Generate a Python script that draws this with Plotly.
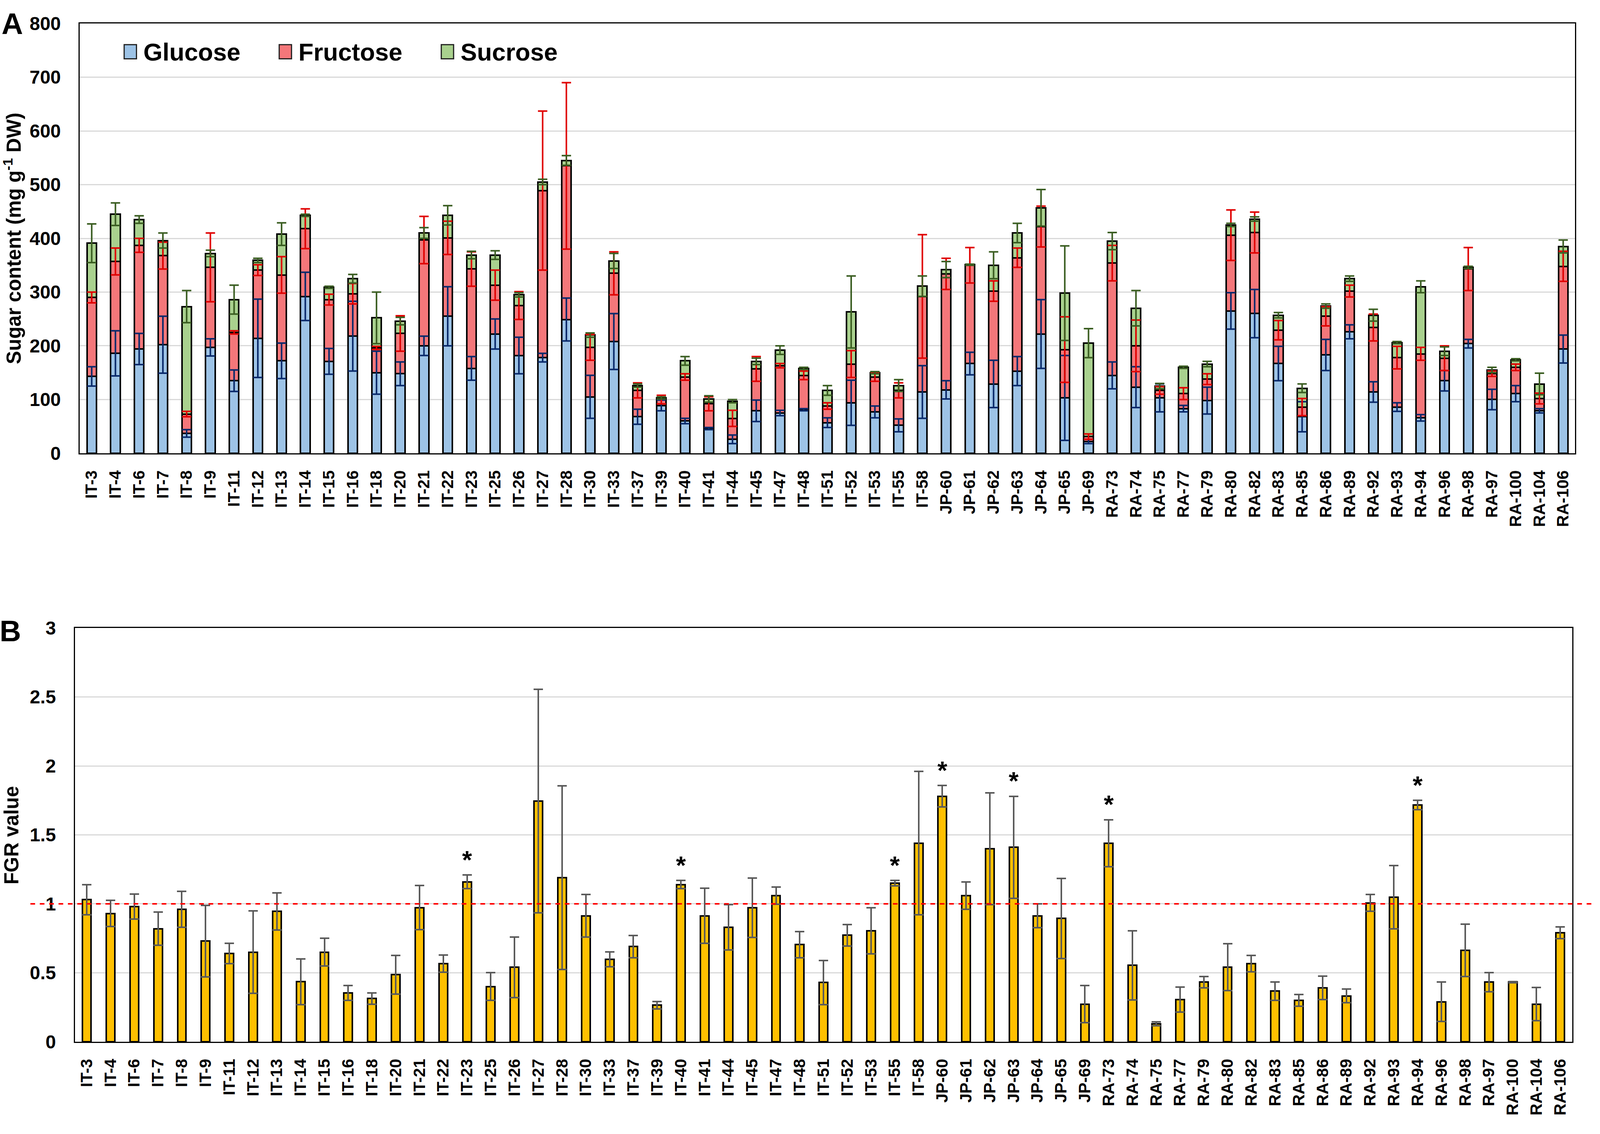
import numpy as np
import plotly.graph_objects as go

# Accessions (same order in both panels)
lines = ['IT-3', 'IT-4', 'IT-6', 'IT-7', 'IT-8', 'IT-9', 'IT-11', 'IT-12', 'IT-13', 'IT-14',
         'IT-15', 'IT-16', 'IT-18', 'IT-20', 'IT-21', 'IT-22', 'IT-23', 'IT-25', 'IT-26', 'IT-27',
         'IT-28', 'IT-30', 'IT-33', 'IT-37', 'IT-39', 'IT-40', 'IT-41', 'IT-44', 'IT-45', 'IT-47',
         'IT-48', 'IT-51', 'IT-52', 'IT-53', 'IT-55', 'IT-58', 'JP-60', 'JP-61', 'JP-62', 'JP-63',
         'JP-64', 'JP-65', 'JP-69', 'RA-73', 'RA-74', 'RA-75', 'RA-77', 'RA-79', 'RA-80', 'RA-82',
         'RA-83', 'RA-85', 'RA-86', 'RA-89', 'RA-92', 'RA-93', 'RA-94', 'RA-96', 'RA-98', 'RA-97',
         'RA-100', 'RA-104', 'RA-106']

# Panel A : sugar content (mg g-1 DW)
glucose = [143, 186, 194, 202, 37, 197, 135, 214, 172, 292,
           171, 218, 150, 148, 200, 255, 158, 222, 182, 178,
           249, 105, 208, 68, 89, 60, 46, 26, 79, 75,
           81, 57, 94, 77, 52, 114, 118, 167, 129, 153,
           222, 103, 22, 145, 123, 103, 83, 98, 265, 260,
           167, 68, 183, 226, 114, 86, 66, 135, 204, 100,
           111, 79, 194]
glucose_err = [18, 42, 29, 53, 7, 16, 20, 73, 33, 45,
               24, 65, 40, 22, 18, 55, 22, 28, 34, 8,
               40, 40, 52, 14, 10, 5, 2, 8, 20, 5,
               2, 9, 42, 11, 12, 49, 17, 21, 44, 27,
               64, 79, 4, 25, 38, 26, 6, 25, 34, 45,
               32, 28, 29, 13, 19, 8, 6, 19, 8, 19,
               15, 4, 26]
fructose = [147, 171, 193, 166, 36, 149, 90, 127, 160, 126,
            115, 79, 46, 75, 197, 146, 185, 91, 93, 311,
            286, 92, 127, 49, 11, 82, 46, 39, 78, 88,
            64, 31, 72, 65, 65, 178, 216, 183, 173, 211,
            200, 90, 9, 209, 77, 14, 28, 40, 141, 151,
            62, 18, 72, 76, 120, 92, 119, 42, 139, 48,
            49, 23, 154]
fructose_err = [10, 25, 13, 25, 5, 64, 3, 10, 34, 37,
                10, 19, 3, 33, 44, 31, 32, 28, 26, 148,
                155, 24, 40, 14, 8, 6, 13, 15, 23, 4,
                8, 6, 25, 8, 14, 115, 29, 33, 19, 18,
                38, 61, 5, 33, 48, 7, 11, 10, 47, 38,
                18, 16, 18, 11, 25, 21, 12, 23, 40, 5,
                6, 10, 28]
sucrose = [101, 88, 48, 28, 200, 26, 61, 18, 76, 25,
           23, 28, 56, 23, 13, 42, 26, 56, 20, 16,
           10, 23, 23, 9, 3, 30, 9, 32, 14, 29,
           13, 29, 97, 8, 9, 19, 8, 1, 48, 46,
           35, 105, 174, 41, 70, 8, 49, 28, 19, 25,
           28, 35, 19, 23, 23, 28, 125, 13, 3, 7,
           14, 27, 37]
sucrose_err = [36, 21, 7, 14, 30, 6, 27, 4, 21, 2,
               2, 8, 48, 7, 10, 18, 7, 8, 4, 5,
               9, 4, 14, 3, 2, 8, 6, 3, 6, 8,
               2, 9, 67, 2, 11, 19, 15, 1, 25, 18,
               34, 88, 27, 16, 33, 5, 2, 5, 3, 4,
               5, 8, 4, 5, 11, 2, 11, 8, 2, 5,
               2, 20, 12]

# Panel B : FGR value
fgr = [1.03, 0.93, 0.98, 0.82, 0.96, 0.73, 0.64, 0.65, 0.945, 0.435,
       0.65, 0.355, 0.313, 0.486, 0.972, 0.567, 1.16, 0.40, 0.54, 1.745,
       1.19, 0.913, 0.597, 0.69, 0.265, 1.14, 0.913, 0.83, 0.972, 1.06,
       0.705, 0.43, 0.772, 0.805, 1.15, 1.44, 1.78, 1.06, 1.40, 1.41,
       0.913, 0.894, 0.273, 1.44, 0.554, 0.13, 0.305, 0.432, 0.54, 0.567,
       0.367, 0.30, 0.39, 0.332, 1.007, 1.048, 1.717, 0.29, 0.664, 0.432,
       0.432, 0.273, 0.79]
fgr_err = [0.11, 0.095, 0.09, 0.12, 0.13, 0.26, 0.075, 0.30, 0.135, 0.165,
           0.10, 0.054, 0.04, 0.14, 0.16, 0.063, 0.05, 0.10, 0.22, 0.81,
           0.665, 0.155, 0.054, 0.08, 0.027, 0.03, 0.20, 0.165, 0.215, 0.062,
           0.095, 0.16, 0.077, 0.167, 0.02, 0.52, 0.078, 0.10, 0.405, 0.37,
           0.086, 0.29, 0.135, 0.17, 0.25, 0.013, 0.09, 0.04, 0.17, 0.06,
           0.066, 0.043, 0.085, 0.05, 0.06, 0.23, 0.033, 0.143, 0.19, 0.07,
           0.005, 0.12, 0.043]
significant = ['IT-23', 'IT-40', 'IT-55', 'JP-60', 'JP-63', 'RA-73', 'RA-94']
threshold = 1

FONT = 'Liberation Sans'
# the browser viewport tops out at 4096 css px wide, so the figure fills that
W, H = 4096, 2902
FS = 0.95  # font scale
series = [
    ('Glucose', glucose, glucose_err, '#9DC3E6', '#0A2A6B'),
    ('Fructose', fructose, fructose_err, '#F4777A', '#E00000'),
    ('Sucrose', sucrose, sucrose_err, '#A9D18E', '#3B5E22'),
]


def bold(size):
    return dict(family=FONT, size=round(size * FS), color='black', weight='bold')


fig = go.Figure()

# Stacked bars
for name, vals, err, fill, ecol in series:
    fig.add_trace(go.Bar(
        x=lines, y=vals, name=name, width=0.4,
        marker=dict(color=fill, line=dict(color='black', width=4)),
        xaxis='x', yaxis='y', showlegend=False,
    ))

# Error bars at the top of each stacked segment
cumul = np.zeros(len(lines))
for name, vals, err, fill, ecol in series:
    cumul = cumul + np.array(vals)
    fig.add_trace(go.Scatter(
        x=lines, y=cumul, mode='markers', marker=dict(opacity=0, size=1),
        error_y=dict(type='data', array=err, color=ecol, thickness=4, width=12),
        xaxis='x', yaxis='y', showlegend=False, hoverinfo='skip',
    ))

# Panel B bars
fig.add_trace(go.Bar(
    x=lines, y=fgr, width=0.36,
    marker=dict(color='#FFC000', line=dict(color='black', width=4)),
    error_y=dict(type='data', array=fgr_err, color='#5A5A5A', thickness=4, width=12),
    xaxis='x2', yaxis='y2', showlegend=False,
))

# Stars for significant accessions
idx = [lines.index(s) for s in significant]
fig.add_trace(go.Scatter(
    x=significant, y=[fgr[i] + fgr_err[i] for i in idx],
    mode='text', text=['*'] * len(idx), textposition='top center',
    textfont=bold(68),
    xaxis='x2', yaxis='y2', showlegend=False, hoverinfo='skip',
))

frame = dict(showline=True, linecolor='black', linewidth=3, mirror=True,
             ticks='', zeroline=False)
xrange = [-0.5, len(lines) - 0.5]

fig.update_layout(
    width=W, height=H, autosize=False,
    margin=dict(l=0, r=0, t=0, b=0, pad=0),
    paper_bgcolor='white', plot_bgcolor='white',
    barmode='stack',
    font=dict(family=FONT, color='black'),
    xaxis=dict(domain=[0.0499, 0.9844], anchor='y', type='category',
               range=xrange, autorange=False, tickangle=-90, ticklabelstandoff=24,
               showgrid=False, tickfont=bold(44), **frame),
    yaxis=dict(domain=[0.602, 0.988], anchor='x', range=[0, 800], dtick=100,
               showgrid=True, gridcolor='#D9D9D9', gridwidth=3,
               ticklabelstandoff=36, tickfont=bold(50), **frame),
    xaxis2=dict(domain=[0.0468, 0.9826], anchor='y2', type='category',
                range=xrange, autorange=False, tickangle=-90, ticklabelstandoff=24,
                showgrid=False, tickfont=bold(44), **frame),
    yaxis2=dict(domain=[0.0734, 0.445], anchor='x2', range=[0, 3], dtick=0.5,
                showgrid=True, gridcolor='#D9D9D9', gridwidth=3,
                ticklabelstandoff=36, tickfont=bold(50), **frame),
)

# Threshold line in panel B
fig.add_shape(type='line', xref='paper', yref='y2', x0=0.019, x1=0.997,
              y0=threshold, y1=threshold,
              line=dict(color='#FF0000', width=4, dash='dash'))

# Manual legend for panel A
legend_x = [0.0776, 0.1745, 0.2758]
for (name, vals, err, fill, ecol), lx in zip(series, legend_x):
    fig.add_shape(type='rect', xref='paper', yref='paper',
                  x0=lx, x1=lx + 0.0077, y0=0.9563, y1=0.9690,
                  fillcolor=fill, line=dict(color='#202020', width=3))
    fig.add_annotation(x=lx + 0.0115, y=0.9626, xref='paper', yref='paper',
                       text=name, showarrow=False, xanchor='left', yanchor='middle',
                       font=bold(66))

# Axis titles and panel letters
fig.add_annotation(x=0.0078, y=0.795, xref='paper', yref='paper', textangle=-90,
                   text='Sugar content (mg g<sup>-1</sup> DW)', showarrow=False,
                   xanchor='center', yanchor='middle', font=bold(54))
fig.add_annotation(x=0.0072, y=0.259, xref='paper', yref='paper', textangle=-90,
                   text='FGR value', showarrow=False, xanchor='center',
                   yanchor='middle', font=bold(54))
fig.add_annotation(x=0.0077, y=0.988, xref='paper', yref='paper', text='A',
                   showarrow=False, xanchor='center', yanchor='middle', font=bold(80))
fig.add_annotation(x=0.0065, y=0.4425, xref='paper', yref='paper', text='B',
                   showarrow=False, xanchor='center', yanchor='middle', font=bold(80))

# make the figure fill the viewport exactly, whatever its size
fit_js = """
document.documentElement.style.overflow = 'hidden';
document.body.style.margin = '0';
document.body.style.overflow = 'hidden';
var gd = document.getElementById('{plot_id}');
if (window.innerWidth !== %d || window.innerHeight !== %d) {
    Plotly.relayout(gd, {width: window.innerWidth, height: window.innerHeight});
}
""" % (W, H)

fig.write_html("out.html", post_script=fit_js, config={'displayModeBar': False})
